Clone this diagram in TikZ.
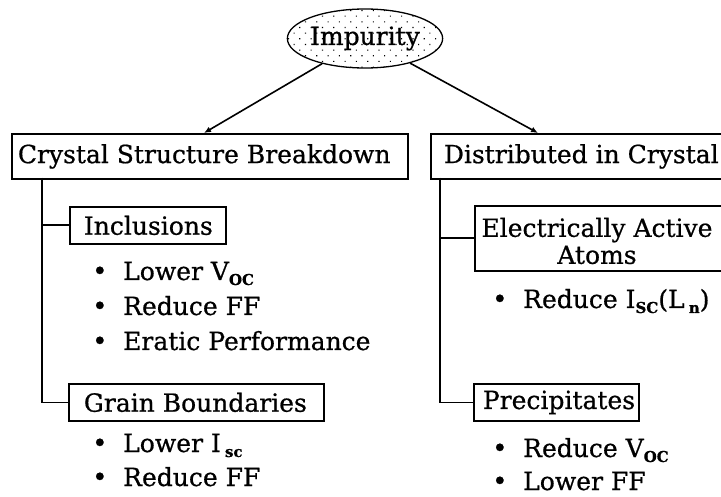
\documentclass[tikz,border=0pt]{standalone}
\usepackage{fontspec}
\setmainfont{DejaVu Serif}[FakeBold=0.7]
\usetikzlibrary{patterns.meta,arrows.meta,shapes.geometric}
\newcommand\lowsub[1]{\raisebox{-5pt}{\fontsize{15}{15}\selectfont\bfseries #1}}
\newcommand\bul{\makebox[31pt][l]{\fontsize{26}{26}\selectfont •}}
\begin{document}
\begin{tikzpicture}[x=1pt,y=-1pt,
  every node/.style={font=\fontsize{25}{27}\selectfont},
  box/.style={draw, line width=1.8pt, anchor=north west, inner ysep=0pt},
  conn/.style={line width=1.8pt},
  arr/.style={line width=1.6pt, -{Latex[length=7pt,width=6pt]}},
  item/.style={anchor=base west, inner sep=0pt},
]
\clip (0,0) rectangle (721,497);
\node[draw, ellipse, line width=1.3pt, minimum width=154pt, minimum height=59pt, inner sep=0pt,
  pattern={Dots[distance=8pt,radius=0.8pt,angle=45]}] (imp) at (365,38.5) {Impurity};

\node[box, inner xsep=6pt, minimum height=45pt] (csb) at (11,133) {\makebox[384pt][l]{Crystal Structure Breakdown}};
\node[box, inner xsep=13pt, minimum height=45pt] (dic) at (430,133) {\makebox[274pt][l]{Distributed in Crystal}};

\node[box, inner xsep=14pt, minimum height=37pt] (inc) at (69,206) {\makebox[128pt][l]{Inclusions}};
\node[box, inner xsep=15pt, minimum height=37pt] (gb) at (68,383) {\makebox[225pt][l]{Grain Boundaries}};
\node[box, inner xsep=0pt, minimum width=260pt, minimum height=65pt] (eaa) at (474,205) {};
\node[align=center, inner sep=0pt] (eaat) at (597,241) {Electrically Active\\Atoms};
\node[box, inner xsep=9pt, minimum height=37pt] (pre) at (473,383) {\makebox[147pt][l]{Precipitates}};

\coordinate (tl) at (204,133);
\coordinate (tr) at (538,133);
\draw[arr] (imp) -- (tl);
\draw[arr] (imp) -- (tr);

\coordinate (trunkL) at (42,178);
\coordinate (trunkR) at (440,178);
\draw[conn] (trunkL) |- (inc.west);
\draw[conn] (trunkL) |- (gb.west);
\draw[conn] (trunkR) |- (eaa.west);
\draw[conn] (trunkR) |- (pre.west);

\node[item] (l1) at (92,280) {\bul Lower V\lowsub{OC}};
\node[item] (l2) at (92,315) {\bul Reduce FF};
\node[item] (l3) at (92,350) {\bul Eratic Performance};
\node[item] (l4) at (92,452) {\bul Lower I\,\lowsub{sc}};
\node[item] (l5) at (92,486) {\bul Reduce FF};

\node[item] (r1) at (492,308) {\bul Reduce I\lowsub{SC}(L\,\lowsub{n})};
\node[item] (r2) at (492,457) {\bul Reduce V\lowsub{OC}};
\node[item] (r3) at (492,490) {\bul Lower FF};
\end{tikzpicture}
\end{document}
